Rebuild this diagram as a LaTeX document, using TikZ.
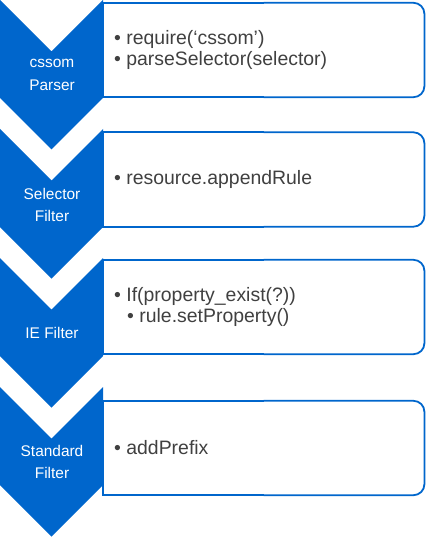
\documentclass[tikz,border=0pt]{standalone}
\usepackage{fontspec}
\setmainfont{Liberation Sans}
\usepackage{xcolor}
\usepackage{tikz}
\usetikzlibrary{positioning}

\definecolor{flowblue}{RGB}{0,102,204}
\definecolor{stepgray}{RGB}{64,64,64}

\begin{document}
\begin{tikzpicture}[
  x=1bp, y=-1bp,
  chevron/.style={fill=flowblue},
  chevlabel/.style={text=white, align=center, inner sep=0pt,
                    font=\fontsize{15.5}{23}\selectfont},
  stagebox/.style={rectangle, inner sep=0pt,
                   minimum width=321bp, minimum height=94bp, anchor=west},
  boxline/.style={draw=flowblue, line width=1.8bp},
  boxround/.style={boxline, rounded corners=11bp},
  bullets/.style={text=stepgray, align=left, inner sep=0pt, anchor=west,
                  font=\fontsize{19.5}{22}\selectfont}
]
  \useasboundingbox (0,0) rectangle (430,539);

  % chevrons down the left side
  \fill[chevron] (0,0)   -- ++(51.5,51.5) -- ++(51.5,-51.5) -- ++(0,98)
                 -- ++(-51.5,51.5) -- ++(-51.5,-51.5) -- cycle;
  \fill[chevron] (0,129) -- ++(51.5,51.5) -- ++(51.5,-51.5) -- ++(0,98)
                 -- ++(-51.5,51.5) -- ++(-51.5,-51.5) -- cycle;
  \fill[chevron] (0,258) -- ++(51.5,51.5) -- ++(51.5,-51.5) -- ++(0,98)
                 -- ++(-51.5,51.5) -- ++(-51.5,-51.5) -- cycle;
  \fill[chevron] (0,387) -- ++(51.5,51.5) -- ++(51.5,-51.5) -- ++(0,98)
                 -- ++(-51.5,51.5) -- ++(-51.5,-51.5) -- cycle;

  \node[chevlabel] (lab1) at (52,75)  {cssom\\Parser};
  \node[chevlabel] (lab2) at (52,205) {Selector\\Filter};
  \node[chevlabel] (lab3) at (52,333) {IE Filter};
  \node[chevlabel] (lab4) at (52,462) {Standard\\Filter};

  % boxes on the right, square on the left, round on the right
  \node[stagebox] (box1) at (103,50)  {};
  \node[stagebox] (box2) at (103,179.5) {};
  \node[stagebox] (box3) at (103,307) {};
  \node[stagebox] (box4) at (103,448) {};

  \draw[boxline]  (box1.north) -- (box1.north west) -- (box1.south west) -- (box1.south);
  \draw[boxround] (box1.north) -- (box1.north east) -- (box1.south east) -- (box1.south);
  \draw[boxline]  (box2.north) -- (box2.north west) -- (box2.south west) -- (box2.south);
  \draw[boxround] (box2.north) -- (box2.north east) -- (box2.south east) -- (box2.south);
  \draw[boxline]  (box3.north) -- (box3.north west) -- (box3.south west) -- (box3.south);
  \draw[boxround] (box3.north) -- (box3.north east) -- (box3.south east) -- (box3.south);
  \draw[boxline]  (box4.north) -- (box4.north west) -- (box4.south west) -- (box4.south);
  \draw[boxround] (box4.north) -- (box4.north east) -- (box4.south east) -- (box4.south);

  \node[bullets, right=11bp of box1.west] (txt1)
       {• require(‘cssom’)\\• parseSelector(selector)};
  \node[bullets, right=11bp of box2.west] (txt2) {• resource.appendRule};
  \node[bullets, right=11bp of box3.west] (txt3)
       {• If(property\_exist(?))\\\hspace*{13bp}• rule.setProperty()};
  \node[bullets, right=11bp of box4.west] (txt4) {• addPrefix};
\end{tikzpicture}
\end{document}
